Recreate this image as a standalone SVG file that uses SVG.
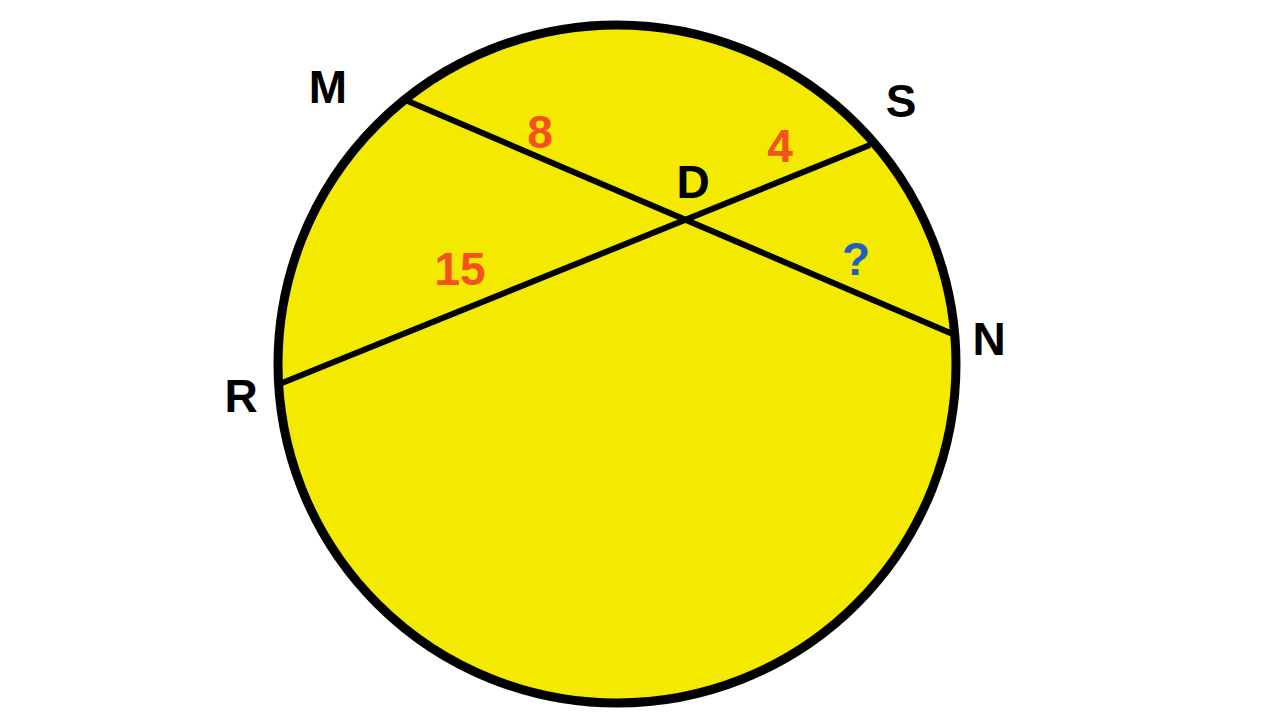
<svg xmlns="http://www.w3.org/2000/svg" width="1280" height="720" viewBox="0 0 1280 720">
<style>
.lbl{font-family:"Liberation Sans",Arial,sans-serif;font-weight:bold;font-size:46px;text-anchor:middle}
.pt{fill:#000}
.num{fill:#F4511E}
.q{fill:#1E5FC0}
.chord{stroke:#000;stroke-width:6;stroke-linecap:butt;fill:none}
</style>
<rect width="1280" height="720" fill="#fff"/>
<g id="circle">
<circle cx="617" cy="364" r="339" fill="#F3EA00" stroke="#000" stroke-width="9"/>
</g>
<g id="connectors">
<line class="chord" x1="403" y1="99" x2="955" y2="335"/>
<line class="chord" x1="282" y1="383" x2="870" y2="145"/>
</g>
<g id="labels">
<text class="lbl pt" x="328" y="103">M</text>
<text class="lbl pt" x="901" y="117">S</text>
<text class="lbl pt" x="989" y="355">N</text>
<text class="lbl pt" x="241" y="412">R</text>
<text class="lbl pt" x="693" y="198">D</text>
<text class="lbl num" x="540" y="148">8</text>
<text class="lbl num" x="780" y="162">4</text>
<text class="lbl num" x="460" y="285">15</text>
<text class="lbl q" x="856" y="275">?</text>
</g>
</svg>
